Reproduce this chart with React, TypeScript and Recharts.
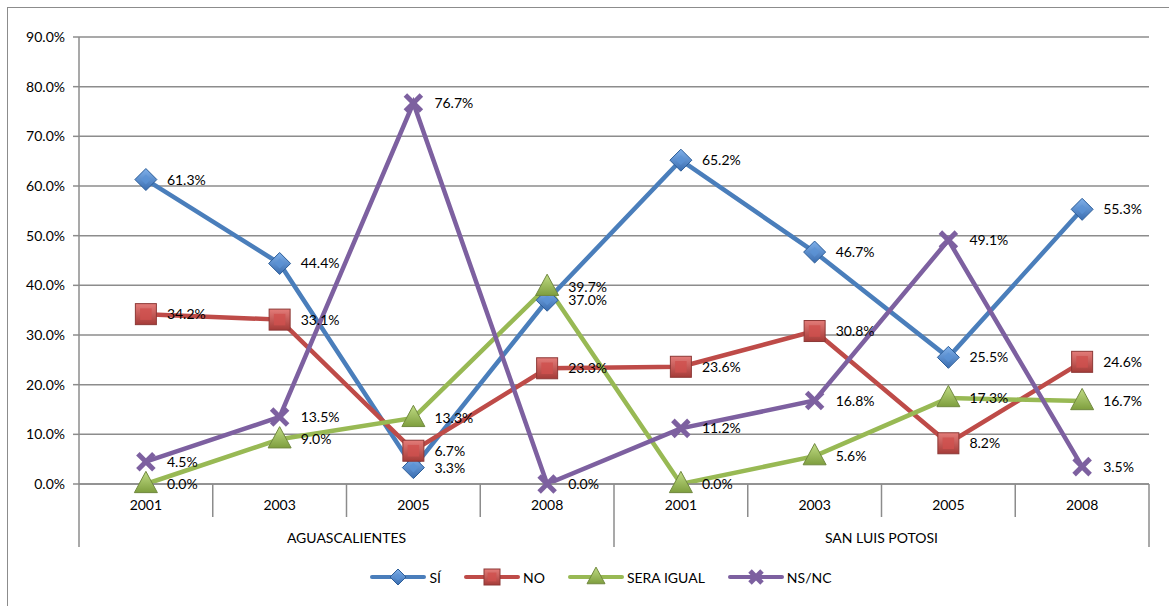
import React from "react";
import { LineChart, Line, XAxis, YAxis, CartesianGrid, Legend, LabelList } from "recharts";

const years = ["2001", "2003", "2005", "2008", "2001", "2003", "2005", "2008"];
const states = ["AGUASCALIENTES", "SAN LUIS POTOSI"];
const si = [61.3, 44.4, 3.3, 37.0, 65.2, 46.7, 25.5, 55.3];
const no = [34.2, 33.1, 6.7, 23.3, 23.6, 30.8, 8.2, 24.6];
const seraIgual = [0.0, 9.0, 13.3, 39.7, 0.0, 5.6, 17.3, 16.7];
const nsnc = [4.5, 13.5, 76.7, 0.0, 11.2, 16.8, 49.1, 3.5];
const yTicks = [0, 10, 20, 30, 40, 50, 60, 70, 80, 90];

const data = years.map((year, i) => ({
  year,
  si: si[i],
  no: no[i],
  sera: seraIgual[i],
  nsnc: nsnc[i],
}));

const W = 1169;
const H = 606;
const M = { top: 37, right: 20, bottom: 56, left: 0 };
const Y_AXIS_W = 79;
const PLOT_W = W - M.right - Y_AXIS_W;
const BAND = PLOT_W / years.length;
const PAD = { left: BAND / 2, right: BAND / 2 };
const GRID = "#8c8c8c";
const FONT = "Lato, 'Liberation Sans', sans-serif";
const FS = 14;
const LW = 4.5;

const COLORS = {
  si: "#4a7ebb",
  no: "#be4b48",
  sera: "#98b954",
  nsnc: "#7d60a0",
};

const Diamond = ({ cx, cy, size = 11 }: any) => {
  if (cx == null || cy == null) return null;
  return (
    <g>
      <polygon
        points={`${cx},${cy - size} ${cx + size},${cy} ${cx},${cy + size} ${cx - size},${cy}`}
        fill="url(#gBlue)"
        stroke="#2c5d98"
        strokeWidth={1}
      />
      <polygon
        points={`${cx},${cy - size * 0.45} ${cx + size * 0.45},${cy} ${cx},${cy + size * 0.45} ${cx - size * 0.45},${cy}`}
        fill="#5b93d6"
        opacity={0.7}
      />
    </g>
  );
};

const Square = ({ cx, cy, size = 10.5 }: any) => {
  if (cx == null || cy == null) return null;
  return (
    <g>
      <rect x={cx - size} y={cy - size} width={size * 2} height={size * 2} fill="url(#gRed)" stroke="#8c3836" strokeWidth={1} />
      <rect x={cx - size * 0.55} y={cy - size * 0.55} width={size * 1.1} height={size * 1.1} fill="#d0504d" opacity={0.8} />
    </g>
  );
};

const Triangle = ({ cx, cy, size = 11.5 }: any) => {
  if (cx == null || cy == null) return null;
  return (
    <g>
      <polygon
        points={`${cx},${cy - size * 1.1} ${cx + size},${cy + size * 0.75} ${cx - size},${cy + size * 0.75}`}
        fill="url(#gGreen)"
        stroke="#71893f"
        strokeWidth={1}
      />
    </g>
  );
};

const Cross = ({ cx, cy, size = 8 }: any) => {
  if (cx == null || cy == null) return null;
  return (
    <g stroke={COLORS.nsnc} strokeWidth={5} strokeLinecap="butt">
      <line x1={cx - size} y1={cy - size} x2={cx + size} y2={cy + size} />
      <line x1={cx - size} y1={cy + size} x2={cx + size} y2={cy - size} />
    </g>
  );
};

const ValueLabel = (props: any) => {
  const { x, y, value } = props;
  if (x == null || y == null) return null;
  return (
    <text x={x + 21} y={y + 5} fontSize={FS} fontFamily={FONT} fill="#000">
      {`${Number(value).toFixed(1)}%`}
    </text>
  );
};

const YearTick = (props: any) => {
  const { x, y, payload, index } = props;
  return (
    <g>
      <text x={x} y={y + 26} textAnchor="middle" fontSize={FS} fontFamily={FONT} fill="#000">
        {payload.value}
      </text>
      {index === 0 && <line x1={x - BAND / 2} y1={y} x2={x - BAND / 2} y2={y + 33} stroke={GRID} strokeWidth={1.5} />}
      <line x1={x + BAND / 2} y1={y} x2={x + BAND / 2} y2={y + 33} stroke={GRID} strokeWidth={1.5} />
    </g>
  );
};

const GroupTick = (props: any) => {
  const { x, y, index } = props;
  if (index % 4 !== 0) return null;
  const label = states[index / 4];
  return (
    <g>
      <line x1={x - BAND / 2} y1={y} x2={x - BAND / 2} y2={y + 30} stroke={GRID} strokeWidth={1.5} />
      {index === 4 && (
        <line x1={x + BAND * 3.5} y1={y} x2={x + BAND * 3.5} y2={y + 30} stroke={GRID} strokeWidth={1.5} />
      )}
      <text x={x + BAND * 1.5} y={y + 26} textAnchor="middle" fontSize={FS} fontFamily={FONT} fill="#000">
        {label}
      </text>
    </g>
  );
};

const legendItems = [
  { name: "SÍ", color: COLORS.si, Marker: Diamond, size: 8 },
  { name: "NO", color: COLORS.no, Marker: Square, size: 8 },
  { name: "SERA IGUAL", color: COLORS.sera, Marker: Triangle, size: 9 },
  { name: "NS/NC", color: COLORS.nsnc, Marker: Cross, size: 6 },
];

const LegendContent = () => (
  <div style={{ display: "flex", justifyContent: "center", alignItems: "center", fontFamily: FONT, fontSize: FS, paddingLeft: 54 }}>
    {legendItems.map((it) => (
      <div key={it.name} style={{ display: "flex", alignItems: "center", marginRight: 22 }}>
        <svg width={58} height={22}>
          <line x1={3} y1={11} x2={55} y2={11} stroke={it.color} strokeWidth={4} strokeLinecap="round" />
          <it.Marker cx={29} cy={11} size={it.size} />
        </svg>
        <span style={{ marginLeft: 2 }}>{it.name}</span>
      </div>
    ))}
  </div>
);

export default function App() {
  return (
    <div style={{ position: "absolute", left: 0, top: 0, width: W, height: H, background: "#fff", overflow: "hidden" }}>
      <div
        style={{
          position: "absolute",
          left: 7,
          top: 7,
          width: W,
          height: H,
          borderLeft: "1.5px solid #8c8c8c",
          borderTop: "1.5px solid #8c8c8c",
        }}
      />
      <LineChart width={W} height={H} data={data} margin={M} style={{ position: "absolute", left: 0, top: 0 }}>
        <defs>
          <linearGradient id="gBlue" x1="0" y1="0" x2="0" y2="1">
            <stop offset="0%" stopColor="#7fb0ea" />
            <stop offset="100%" stopColor="#3a6db0" />
          </linearGradient>
          <linearGradient id="gRed" x1="0" y1="0" x2="0" y2="1">
            <stop offset="0%" stopColor="#e47c79" />
            <stop offset="100%" stopColor="#a53b38" />
          </linearGradient>
          <linearGradient id="gGreen" x1="0" y1="0" x2="0" y2="1">
            <stop offset="0%" stopColor="#c0dc84" />
            <stop offset="100%" stopColor="#7e9e3e" />
          </linearGradient>
        </defs>
        <CartesianGrid vertical={false} stroke={GRID} strokeWidth={1.5} />
        <XAxis
          dataKey="year"
          xAxisId={0}
          height={33}
          padding={PAD}
          tickSize={0}
          tickMargin={0}
          tickLine={false}
          axisLine={{ stroke: GRID, strokeWidth: 1.5 }}
          tick={<YearTick />}
          interval={0}
        />
        <XAxis
          dataKey="year"
          xAxisId="grp"
          height={33}
          padding={PAD}
          tickSize={0}
          tickMargin={0}
          tickLine={false}
          axisLine={false}
          tick={<GroupTick />}
          interval={0}
        />
        <YAxis
          width={Y_AXIS_W}
          domain={[0, 90]}
          ticks={yTicks}
          interval={0}
          tickFormatter={(v) => `${Number(v).toFixed(1)}%`}
          tick={{ fontSize: FS, fontFamily: FONT, fill: "#000" }}
          tickSize={6}
          tickMargin={8}
          tickLine={{ stroke: GRID, strokeWidth: 1.5 }}
          axisLine={{ stroke: GRID, strokeWidth: 1.5 }}
        />
        <Legend
          layout="horizontal"
          verticalAlign="middle"
          align="center"
          content={<LegendContent />}
          wrapperStyle={{ top: 566, left: 0, width: W }}
        />
        <Line dataKey="si" name="SÍ" stroke={COLORS.si} strokeWidth={LW} dot={<Diamond />} activeDot={false} isAnimationActive={false}>
          <LabelList dataKey="si" content={<ValueLabel />} />
        </Line>
        <Line dataKey="no" name="NO" stroke={COLORS.no} strokeWidth={LW} dot={<Square />} activeDot={false} isAnimationActive={false}>
          <LabelList dataKey="no" content={<ValueLabel />} />
        </Line>
        <Line dataKey="sera" name="SERA IGUAL" stroke={COLORS.sera} strokeWidth={LW} dot={<Triangle />} activeDot={false} isAnimationActive={false}>
          <LabelList dataKey="sera" content={<ValueLabel />} />
        </Line>
        <Line dataKey="nsnc" name="NS/NC" stroke={COLORS.nsnc} strokeWidth={LW} dot={<Cross />} activeDot={false} isAnimationActive={false}>
          <LabelList dataKey="nsnc" content={<ValueLabel />} />
        </Line>
      </LineChart>
    </div>
  );
}
